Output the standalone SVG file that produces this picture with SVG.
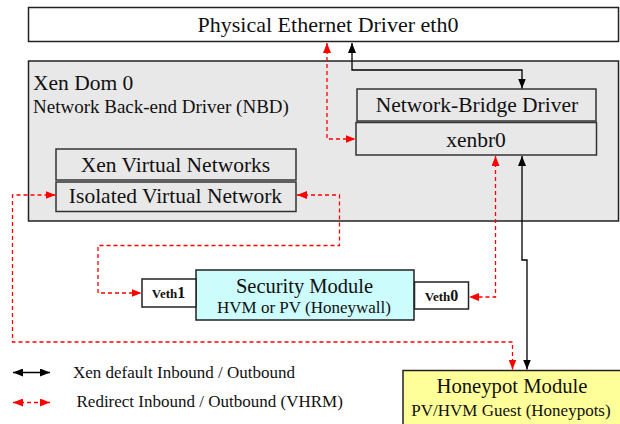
<svg xmlns="http://www.w3.org/2000/svg" width="620" height="424" viewBox="0 0 620 424">
<style>
text{font-family:"Liberation Serif","Times New Roman",serif;fill:#111}
.box{stroke:#222;stroke-width:1.5}
.sub{fill:#e8e8e8;stroke:#333;stroke-width:1.5}
.c{text-anchor:middle}
.blk{fill:none;stroke:#000;stroke-width:1.3}
.red{fill:none;stroke:#f00;stroke-width:1.3;stroke-dasharray:4,3}
.vb{font-weight:bold}
</style>
<defs>
<marker id="ab" viewBox="0 0 10 8" refX="10" refY="4" markerWidth="10" markerHeight="8" markerUnits="userSpaceOnUse" orient="auto-start-reverse"><path d="M0,0L10,4L0,8z" fill="#000"/></marker>
<marker id="ar" viewBox="0 0 10 8" refX="10" refY="4" markerWidth="10" markerHeight="8" markerUnits="userSpaceOnUse" orient="auto-start-reverse"><path d="M0,0L10,4L0,8z" fill="#f00"/></marker>
</defs>
<rect width="620" height="424" fill="#fff"/>
<g id="eth0">
<rect class="box" x="28.5" y="7.5" width="590" height="34" fill="#fff"/>
<text class="c" x="328" y="32" font-size="22">Physical Ethernet Driver eth0</text>
</g>
<g id="dom0">
<rect class="box" x="28.5" y="61" width="590" height="160" fill="#e8e8e8"/>
<text x="33" y="90" font-size="21.5">Xen Dom 0</text>
<text x="33" y="113" font-size="19">Network Back-end Driver (NBD)</text>
</g>
<g id="bridge">
<rect class="sub" x="357" y="89" width="239" height="32"/>
<text class="c" x="477" y="112" font-size="21.5">Network-Bridge Driver</text>
</g>
<g id="xenbr0">
<rect class="sub" x="356" y="122.5" width="240.5" height="32.5"/>
<text class="c" x="476" y="147" font-size="21.5">xenbr0</text>
</g>
<g id="xvn">
<rect class="sub" x="56" y="149" width="240" height="31"/>
<text class="c" x="175.5" y="172" font-size="21.5">Xen Virtual Networks</text>
</g>
<g id="ivn">
<rect class="sub" x="56" y="182" width="240" height="29.5"/>
<text class="c" x="175.5" y="203" font-size="21.5">Isolated Virtual Network</text>
</g>
<g id="security">
<rect class="box" x="196" y="270" width="218" height="50" fill="#ccfcfc"/>
<text class="c" x="304.5" y="293" font-size="20.5">Security Module</text>
<text class="c" x="304" y="313" font-size="17">HVM or PV (Honeywall)</text>
</g>
<g id="veth1">
<rect class="box" x="142" y="279" width="54" height="28" fill="#fff"/>
<text class="c vb" x="168.5" y="298" font-size="13">Veth<tspan font-size="16">1</tspan></text>
</g>
<g id="veth0">
<rect class="box" x="414.5" y="282" width="54" height="27" fill="#fff"/>
<text class="c vb" x="441.5" y="300.5" font-size="13">Veth<tspan font-size="16">0</tspan></text>
</g>
<g id="honeypot">
<rect class="box" x="403" y="370.5" width="220" height="60" fill="#ffff99"/>
<text class="c" x="512" y="393" font-size="20.7">Honeypot Module</text>
<text class="c" x="511" y="415.5" font-size="17">PV/HVM Guest (Honeypots)</text>
</g>
<g id="connectors">
<path class="blk" d="M352,43V70H522V88.5" marker-start="url(#ab)" marker-end="url(#ab)"/>
<path class="red" d="M327,43V139H355.5" marker-start="url(#ar)" marker-end="url(#ar)"/>
<path class="red" d="M495.5,156V297H469" marker-start="url(#ar)" marker-end="url(#ar)"/>
<path class="blk" d="M522,156V260H527V369.5" marker-start="url(#ab)" marker-end="url(#ab)"/>
<path class="red" d="M297,195H339.5V245.5H98V293H141.5" marker-start="url(#ar)" marker-end="url(#ar)"/>
<path class="red" d="M55.5,195H12.5V342H512.5V369.5" marker-start="url(#ar)" marker-end="url(#ar)"/>
</g>
<g id="legend">
<path class="blk" d="M13,372.5H50" marker-start="url(#ab)" marker-end="url(#ab)"/>
<path class="red" d="M13,402.5H50" marker-start="url(#ar)" marker-end="url(#ar)"/>
<text x="73" y="377.5" font-size="17">Xen default Inbound / Outbound</text>
<text x="76.5" y="407" font-size="17">Redirect Inbound / Outbound (VHRM)</text>
</g>
</svg>
